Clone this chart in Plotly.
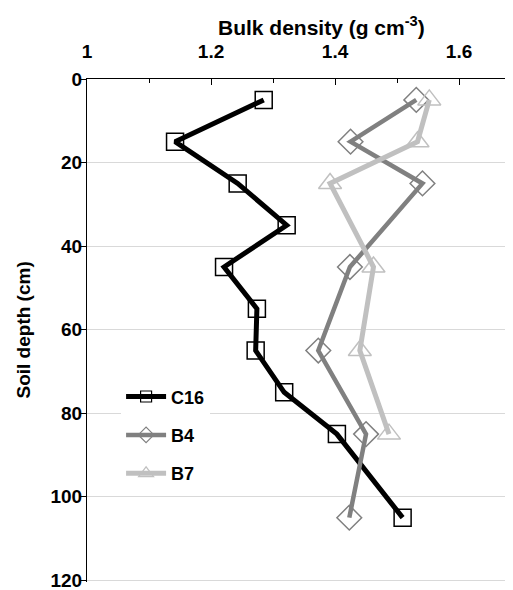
import plotly.graph_objects as go

depth_c16 = [5, 15, 25, 35, 45, 55, 65, 75, 85, 105]
bd_c16 = [1.285, 1.142, 1.243, 1.322, 1.221, 1.274, 1.272, 1.318, 1.403, 1.509]

depth_b4 = [5, 15, 25, 45, 65, 85, 105]
bd_b4 = [1.531, 1.425, 1.541, 1.424, 1.373, 1.450, 1.423]

depth_b7 = [5, 15, 25, 45, 65, 85]
bd_b7 = [1.552, 1.533, 1.392, 1.462, 1.440, 1.487]

x_ticks = [1, 1.2, 1.4, 1.6]
y_ticks = [0, 20, 40, 60, 80, 100, 120]

FONT = "Liberation Sans, Arial, sans-serif"

series = [
    ("C16", bd_c16, depth_c16, "black", 5, "square-open", 17, 11, "a"),
    ("B4", bd_b4, depth_b4, "#808080", 4.5, "diamond-open", 19, 12, "b"),
    ("B7", bd_b7, depth_b7, "#c0c0c0", 5, "triangle-up-open", 20, 13, "c"),
]

fig = go.Figure()
for name, xs, ys, col, lw, sym, ms, lms, grp in series:
    fig.add_trace(go.Scatter(
        x=xs, y=ys, name=name, mode="lines+markers", legendgroup=grp, showlegend=False,
        line=dict(color=col, width=lw),
        marker=dict(symbol=sym, size=ms, color=col, line=dict(width=1.5, color=col)),
    ))
    # legend-only entry with smaller marker, like the original legend key
    fig.add_trace(go.Scatter(
        x=[None], y=[None], name=name, mode="lines+markers", legendgroup=grp, showlegend=True,
        line=dict(color=col, width=lw),
        marker=dict(symbol=sym, size=lms, color=col, line=dict(width=1.2, color=col)),
    ))

# page body has an 8px margin; compensate so plot area lands at x 87..513, y 79..580
W, H = 505, 582
ML, MT, MR, MB = 79, 71, 0, 8
PW, PH = W - ML - MR, H - MT - MB

fig.update_layout(
    width=W, height=H,
    margin=dict(l=ML, r=MR, t=MT, b=MB),
    paper_bgcolor="white", plot_bgcolor="white",
    font=dict(family=FONT, size=16, color="black"),
    showlegend=True,
    legend=dict(
        x=0.08, y=0.405, xanchor="left", yanchor="top",
        bgcolor="white", font=dict(family=FONT, size=18, color="black", weight="bold"),
        tracegroupgap=12, itemwidth=40,
    ),
    annotations=[
        dict(
            text="Bulk density (g cm<sup>-3</sup>)",
            x=(313 - ML) / PW, y=1 + (MT - 18) / PH, xref="paper", yref="paper",
            xanchor="center", yanchor="middle",
            showarrow=False, font=dict(family=FONT, size=21, weight="bold"),
        ),
        dict(
            text="Soil depth (cm)", textangle=-90,
            x=(15 - ML) / PW, y=0.5, xref="paper", yref="paper",
            xanchor="center", yanchor="middle",
            showarrow=False, font=dict(family=FONT, size=19, weight="bold"),
        ),
    ],
)

fig.update_xaxes(
    side="top", range=[1, 1.687],
    tickvals=x_ticks, ticktext=[str(v) for v in x_ticks],
    ticks="inside", ticklen=6, tickcolor="black", tickwidth=1,
    minor=dict(dtick=0.1, ticks="inside", ticklen=4, tickcolor="black", tickwidth=1, showgrid=False),
    showline=True, linecolor="black", linewidth=1,
    showgrid=False, zeroline=False,
    tickfont=dict(family=FONT, size=19, weight="bold"),
    ticklabelstandoff=12,
)
fig.update_yaxes(
    range=[120.4, 0], tickvals=y_ticks,
    ticks="outside", ticklen=6, tickcolor="black", tickwidth=1,
    showline=True, linecolor="black", linewidth=1,
    showgrid=True, gridcolor="#d9d9d9", gridwidth=1, zeroline=False,
    tickfont=dict(family=FONT, size=19, weight="bold"),
    ticklabelstandoff=-6, ticklabeloverflow="allow",
)

fig.write_html("out.html")
